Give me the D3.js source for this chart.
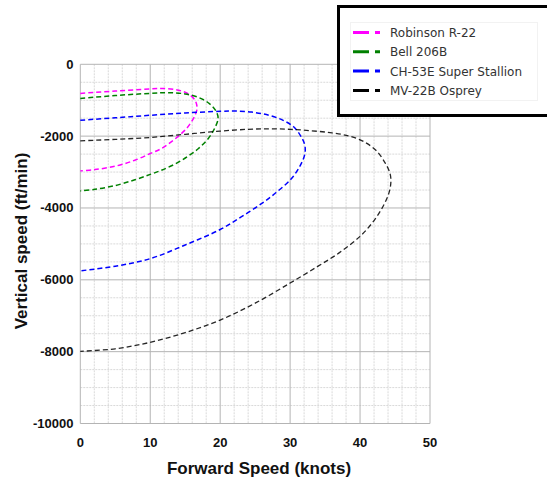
<!DOCTYPE html>
<html>
<head>
<meta charset="utf-8">
<script src="https://cdn.jsdelivr.net/npm/d3@7"></script>
<style>
  body { margin: 0; background: #fff; }
  svg { display: block; }
</style>
</head>
<body>
<div id="chart"></div>
<script>
// [forward speed (knots), vertical speed (ft/min)]
const robinson = [
  [0, -810], [5, -745], [10, -685], [12, -675], [14, -720], [15.5, -830],
  [16.4, -1000], [16.7, -1220], [16.4, -1420], [15.9, -1600], [15.2, -1786],
  [14.2, -1972], [13, -2158], [11.6, -2344], [10, -2484], [7.8, -2670],
  [5, -2837], [2.1, -2930], [0, -2967]
];
const bell = [
  [0, -949], [5, -870], [10, -809], [12.5, -790], [15, -825], [17, -930],
  [18.5, -1100], [19.4, -1300], [19.7, -1507], [19.2, -1786], [18.3, -2065],
  [16.9, -2344], [15.4, -2558], [13.5, -2781], [11.6, -2950], [10, -3065],
  [7.8, -3215], [5, -3375], [2.1, -3480], [0, -3526]
];
const ch53 = [
  [0, -1558], [5, -1490], [10, -1419], [15, -1355], [20, -1309], [22, -1300],
  [24.5, -1330], [27, -1420], [29, -1560], [30.5, -1740], [31.5, -1990],
  [32.1, -2250], [32.1, -2500], [31.5, -2800], [30.2, -3180], [28, -3570],
  [25.9, -3880], [23, -4250], [20, -4600], [15, -5030], [10, -5410],
  [5, -5620], [0, -5750]
];
const mv22 = [
  [0, -2130], [5, -2090], [10, -2037], [15, -1950], [20, -1860], [24, -1810],
  [27, -1795], [30, -1811], [33, -1850], [36, -1910], [38.5, -2000],
  [40.5, -2150], [42.3, -2400], [43.6, -2750], [44.3, -3050], [44.4, -3300],
  [44.1, -3600], [43.3, -3950], [42, -4350], [40, -4790], [37, -5250],
  [34, -5620], [30, -6090], [25, -6650], [20, -7120], [15, -7470],
  [10, -7740], [5, -7920], [0, -7990]
];

const seriesNames = ["Robinson R-22", "Bell 206B", "CH-53E Super Stallion", "MV-22B Osprey"];
const seriesData = [robinson, bell, ch53, mv22];
const seriesColors = ["#ff00ff", "#008000", "#0000ff", "#000000"];

const xTicks = [0, 10, 20, 30, 40, 50];
const yTicks = [0, -2000, -4000, -6000, -8000, -10000];

const width = 547, height = 481;

const svg = d3.select("#chart")
  .append("svg")
  .attr("width", width)
  .attr("height", height);

const x = d3.scaleLinear().domain([0, 50]).range([80.3, 430]);
const y = d3.scaleLinear().domain([-10000, 0]).range([423.5, 64.3]);

// minor grid
const grid = svg.append("g");
grid.selectAll("line.vx")
  .data(d3.range(0, 51, 2).filter((d) => d % 10 !== 0))
  .enter().append("line")
  .attr("x1", (d) => x(d)).attr("x2", (d) => x(d))
  .attr("y1", y(0)).attr("y2", y(-10000))
  .attr("stroke", "#d9d9d9")
  .attr("stroke-dasharray", "2,1");
grid.selectAll("line.hy")
  .data(d3.range(0, -10001, -500).filter((d) => d % 2000 !== 0))
  .enter().append("line")
  .attr("x1", x(0)).attr("x2", x(50))
  .attr("y1", (d) => y(d)).attr("y2", (d) => y(d))
  .attr("stroke", "#d9d9d9")
  .attr("stroke-dasharray", "2,1");

// major grid
grid.selectAll("line.mx")
  .data(xTicks)
  .enter().append("line")
  .attr("x1", (d) => x(d)).attr("x2", (d) => x(d))
  .attr("y1", y(0)).attr("y2", y(-10000))
  .attr("stroke", "#b4b4b4");
grid.selectAll("line.my")
  .data(yTicks)
  .enter().append("line")
  .attr("x1", x(0)).attr("x2", x(50))
  .attr("y1", (d) => y(d)).attr("y2", (d) => y(d))
  .attr("stroke", "#b4b4b4");

// tick labels
svg.append("g")
  .selectAll("text")
  .data(xTicks)
  .enter().append("text")
  .attr("x", (d) => x(d))
  .attr("y", 447)
  .attr("text-anchor", "middle")
  .style("font-family", "Liberation Sans, Arial, sans-serif")
  .style("font-weight", "bold")
  .style("font-size", "13px")
  .style("fill", "#111")
  .text((d) => d);

svg.append("g")
  .selectAll("text")
  .data(yTicks)
  .enter().append("text")
  .attr("x", 73.5)
  .attr("y", (d) => y(d) + 4.5)
  .attr("text-anchor", "end")
  .style("font-family", "Liberation Sans, Arial, sans-serif")
  .style("font-weight", "bold")
  .style("font-size", "13px")
  .style("fill", "#111")
  .text((d) => d);

// axis titles
svg.append("text")
  .attr("x", 259)
  .attr("y", 474)
  .attr("text-anchor", "middle")
  .style("font-family", "Liberation Sans, Arial, sans-serif")
  .style("font-weight", "bold")
  .style("font-size", "17px")
  .style("fill", "#111")
  .text("Forward Speed (knots)");

svg.append("text")
  .attr("transform", "translate(27, 241) rotate(-90)")
  .attr("text-anchor", "middle")
  .style("font-family", "Liberation Sans, Arial, sans-serif")
  .style("font-weight", "bold")
  .style("font-size", "17px")
  .style("fill", "#111")
  .text("Vertical speed (ft/min)");

// curves
const line = d3.line()
  .x((d) => x(d[0]))
  .y((d) => y(d[1]))
  .curve(d3.curveCatmullRom.alpha(0.5));

svg.append("g")
  .selectAll("path")
  .data(seriesData)
  .enter().append("path")
  .attr("d", line)
  .attr("fill", "none")
  .attr("stroke", (d, i) => seriesColors[i])
  .attr("stroke-width", (d, i) => (i === 3 ? 1.3 : 1.5))
  .attr("stroke-opacity", (d, i) => (i === 3 ? 0.85 : 1))
  .attr("stroke-dasharray", "5,3");

// legend
const legend = svg.append("g");
legend.append("rect")
  .attr("x", 338.5).attr("y", 6.5)
  .attr("width", 240).attr("height", 109)
  .attr("fill", "#fff")
  .attr("stroke", "#000")
  .attr("stroke-width", 3);
legend.append("rect")
  .attr("x", 350.5).attr("y", 22.5)
  .attr("width", 187).attr("height", 78)
  .attr("fill", "none")
  .attr("stroke", "#f2f2f2");

const rows = legend.selectAll("g.item")
  .data(seriesNames)
  .enter().append("g")
  .attr("transform", (d, i) => `translate(0, ${32.5 + i * 19.3})`);

rows.append("line")
  .attr("x1", 353).attr("x2", 380)
  .attr("y1", 0).attr("y2", 0)
  .attr("stroke", (d, i) => seriesColors[i])
  .attr("stroke-width", 3)
  .attr("stroke-dasharray", "16,6");

rows.append("text")
  .attr("x", 390)
  .attr("y", 4.5)
  .style("font-family", "DejaVu Sans, sans-serif")
  .style("font-size", "12px")
  .style("fill", "#333")
  .text((d) => d);
</script>
</body>
</html>
